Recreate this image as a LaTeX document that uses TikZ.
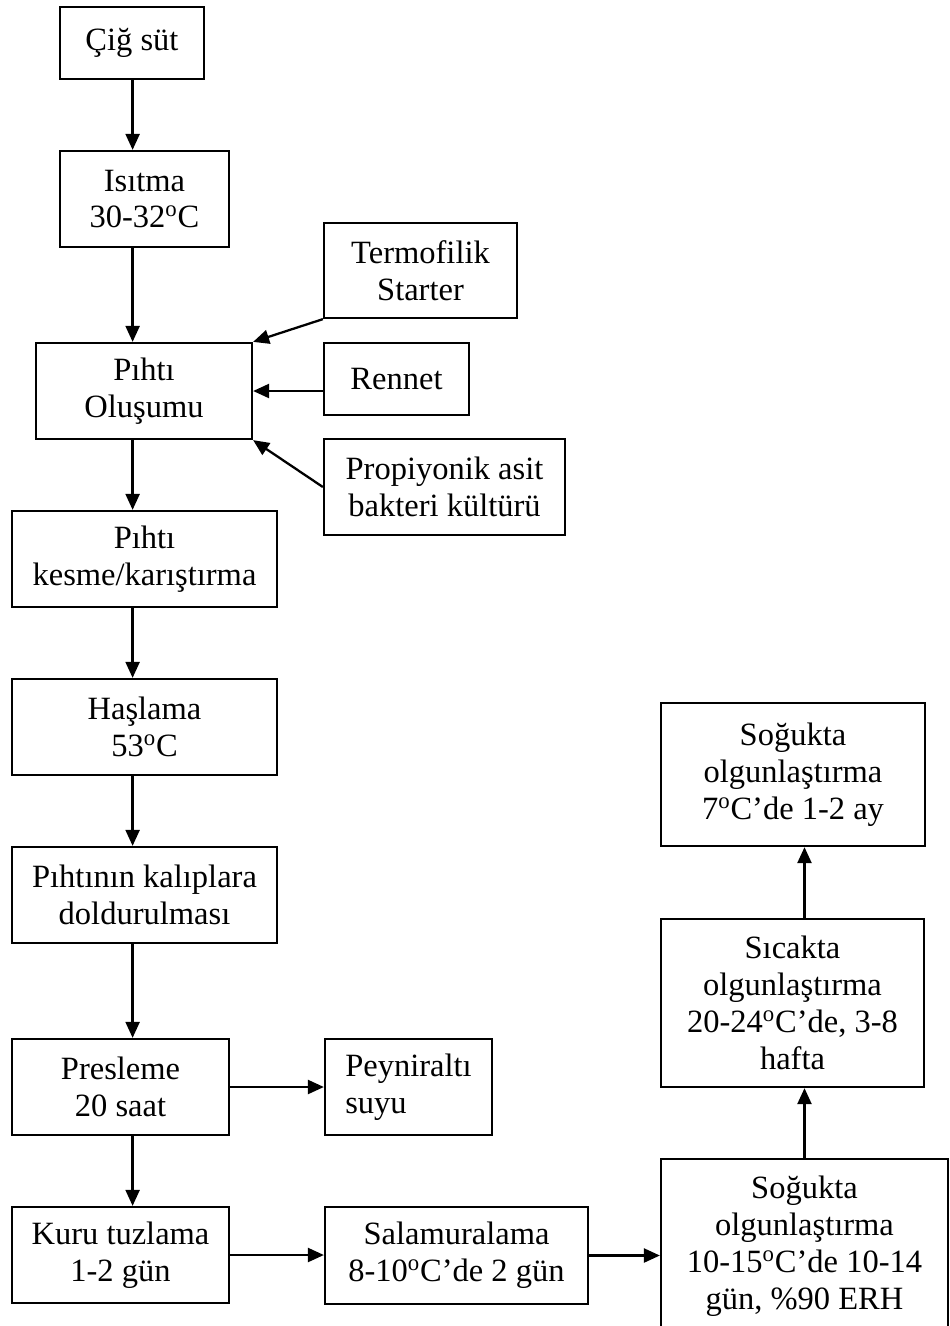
\documentclass[tikz,border=0pt]{standalone}
\usepackage{fontspec}
\setmainfont{Liberation Serif}
\usepackage{tikz}
\usetikzlibrary{positioning}
\usetikzlibrary{arrows.meta}
\tikzset{kutu/.style={draw, line width=1.3pt, align=center, inner sep=0pt,
  font=\fontsize{18.5}{21}\selectfont}}
\tikzset{ok/.style={line width=1.3pt, -{Triangle[length=0.32cm,width=0.28cm]}}}

\begin{document}
\begin{tikzpicture}[x=0.02cm,y=-0.02cm]
\clip (0,0) rectangle (950,1326);
\fill[white] (0,0) rectangle (950,1326);
% ana akis
\coordinate (eksen) at (132.6,0);
\node[kutu, minimum width=2.88cm, minimum height=1.44cm] (cig) at (132,43) {Çiğ süt};
\node[kutu, minimum width=3.38cm, minimum height=1.92cm] (isitma) at (144.5,199) {Isıtma\\30-32\textsuperscript{o}C};
\node[kutu, minimum width=4.32cm, minimum height=1.92cm] (pihti) at (144,391) {Pıhtı\\Oluşumu};
\node[kutu, minimum width=5.30cm, minimum height=1.92cm] (kesme) at (144.5,559) {Pıhtı\\kesme/karıştırma};
\node[kutu, minimum width=5.30cm, minimum height=1.92cm] (haslama) at (144.5,727) {Haşlama\\53\textsuperscript{o}C};
\node[kutu, minimum width=5.30cm, minimum height=1.92cm] (kalip) at (144.5,895) {Pıhtının kalıplara\\doldurulması};
\node[kutu, minimum width=4.34cm, minimum height=1.92cm] (presleme) at (120.5,1087) {Presleme\\20 saat};
\node[kutu, minimum width=4.34cm, minimum height=1.92cm] (kuru) at (120.5,1255) {Kuru tuzlama\\1-2 gün};
% katkilar
\node[kutu, minimum width=3.86cm, minimum height=1.90cm] (termo) at (420.5,270.5) {Termofilik\\Starter};
\node[kutu, minimum width=2.90cm, minimum height=1.44cm] (rennet) at (396.5,379) {Rennet};
\node[kutu, minimum width=4.82cm, minimum height=1.92cm] (propi) at (444.5,487) {Propiyonik asit\\bakteri kültürü};
\node[kutu, minimum width=3.34cm, minimum height=1.92cm, align=left] (peyniralti) at (408.5,1087) {Peyniraltı\\suyu};
\node[kutu, minimum width=5.26cm, minimum height=1.94cm] (salamura) at (456.5,1255.5) {Salamuralama\\8-10\textsuperscript{o}C’de 2 gün};
% olgunlastirma
\node[kutu, minimum width=5.74cm, minimum height=3.48cm] (sogukbir) at (804.5,1246) {Soğukta\\olgunlaştırma\\10-15\textsuperscript{o}C’de 10-14\\gün, \%90 ERH};
\node[kutu, minimum width=5.26cm, minimum height=3.36cm] (sicak) at (792.5,1003) {Sıcakta\\olgunlaştırma\\20-24\textsuperscript{o}C’de, 3-8\\hafta};
\node[kutu, minimum width=5.28cm, minimum height=2.86cm] (sogukiki) at (793,774.5) {Soğukta\\olgunlaştırma\\7\textsuperscript{o}C’de 1-2 ay};

\draw[ok] (cig.south -| eksen) -- (isitma.north -| eksen);
\draw[ok] (isitma.south -| eksen) -- (pihti.north -| eksen);
\draw[ok] (pihti.south -| eksen) -- (kesme.north -| eksen);
\draw[ok] (kesme.south -| eksen) -- (haslama.north -| eksen);
\draw[ok] (haslama.south -| eksen) -- (kalip.north -| eksen);
\draw[ok] (kalip.south -| eksen) -- (presleme.north -| eksen);
\draw[ok] (presleme.south -| eksen) -- (kuru.north -| eksen);
\draw[ok] (termo.south west) -- (pihti.north east);
\draw[ok] (pihti.east -| rennet.west) -- (pihti.east);
\draw[ok] (propi.west) -- (pihti.south east);
\draw[ok] (presleme.east) -- (presleme.east -| peyniralti.west);
\draw[ok] (kuru.east) -- (kuru.east -| salamura.west);
\draw[ok] (salamura.east) -- (salamura.east -| sogukbir.west);
\draw[ok] (sogukbir.north) -- (sogukbir.north |- sicak.south);
\draw[ok] (sicak.north -| sogukbir.north) -- (sogukiki.south -| sogukbir.north);
%\draw (0,0) rectangle (950,1326);
\end{tikzpicture}
\end{document}
